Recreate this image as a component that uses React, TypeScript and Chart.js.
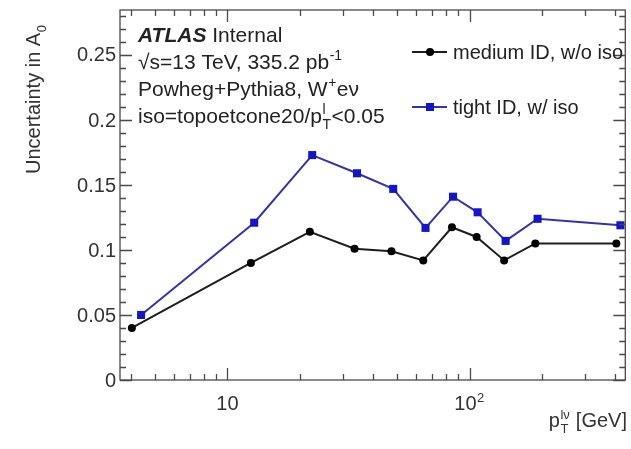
import React, { useEffect, useRef } from "react";
import { Chart, registerables } from "chart.js";

Chart.register(...registerables);

// ---- data ----
const mediumPt = [4.03, 12.5, 21.9, 33.5, 47.6, 64.4, 84.6, 107, 139, 187, 404];
const mediumUnc = [0.040, 0.090, 0.114, 0.101, 0.099, 0.092, 0.1175, 0.110, 0.092, 0.105, 0.105];
const tightPt = [4.4, 12.9, 22.4, 34.3, 48.4, 65.8, 85.5, 108, 141, 191, 420];
const tightUnc = [0.050, 0.121, 0.173, 0.159, 0.147, 0.117, 0.141, 0.129, 0.107, 0.124, 0.119];
const seriesLabels = ["medium ID, w/o iso", "tight ID, w/ iso"];
const yTickValues = [0, 0.05, 0.1, 0.15, 0.2, 0.25];
const yTickLabels = ["0", "0.05", "0.1", "0.15", "0.2", "0.25"];
const xMajorValues = [10, 100];
const xMajorBase = ["10", "10"];
const xMajorExp = ["", "2"];
const xRange = [3.6, 440];
const yRange = [0, 0.2846];

const FONT = '"Liberation Sans", Arial, Helvetica, sans-serif';
const BLACK_LINE = "#1e1e1e";
const BLUE_LINE = "#3434a8";
const BLUE_MARK = "#1414c8";

type Part = { t?: string; sup?: string; sub?: string; style?: string };

function partsWidth(ctx: CanvasRenderingContext2D, parts: Part[], size: number) {
  let w = 0;
  for (const p of parts) {
    if (p.t !== undefined) {
      ctx.font = `${p.style || ""} ${size}px ${FONT}`;
      w += ctx.measureText(p.t).width;
    } else {
      ctx.font = `${Math.round(size * 0.65)}px ${FONT}`;
      const a = p.sup ? ctx.measureText(p.sup).width : 0;
      const b = p.sub ? ctx.measureText(p.sub).width : 0;
      w += Math.max(a, b) + 1;
    }
  }
  return w;
}

function drawParts(ctx: CanvasRenderingContext2D, parts: Part[], x: number, y: number, size: number) {
  ctx.textAlign = "left";
  ctx.textBaseline = "alphabetic";
  let cx = x;
  for (const p of parts) {
    if (p.t !== undefined) {
      ctx.font = `${p.style || ""} ${size}px ${FONT}`;
      ctx.fillText(p.t, cx, y);
      cx += ctx.measureText(p.t).width;
    } else {
      const s = Math.round(size * 0.65);
      ctx.font = `${s}px ${FONT}`;
      let w = 0;
      if (p.sup) {
        ctx.fillText(p.sup, cx + 0.5, y - size * 0.42);
        w = Math.max(w, ctx.measureText(p.sup).width);
      }
      if (p.sub) {
        ctx.fillText(p.sub, cx + 0.5, y + size * 0.3);
        w = Math.max(w, ctx.measureText(p.sub).width);
      }
      cx += w + 1;
    }
  }
  return cx;
}

const rootStyle = {
  id: "rootStyle",
  afterDraw(chart: any) {
    const ctx: CanvasRenderingContext2D = chart.ctx;
    const { left, right, top, bottom } = chart.chartArea;
    const xs = chart.scales.x;
    const ys = chart.scales.y;
    ctx.save();

    // frame
    ctx.strokeStyle = "#4a4a4a";
    ctx.lineWidth = 1.3;
    ctx.strokeRect(left, top, right - left, bottom - top);

    // y ticks
    ctx.beginPath();
    for (let i = 0; i <= 28; i++) {
      const v = i * 0.01;
      const py = Math.round(ys.getPixelForValue(v)) + 0.5;
      const major = i % 5 === 0;
      const len = major ? 12 : 6;
      ctx.moveTo(left, py);
      ctx.lineTo(left + len, py);
      ctx.moveTo(right, py);
      ctx.lineTo(right - len, py);
    }
    // x ticks
    const xticks: number[] = [];
    for (let d = 1; d <= 100; d *= 10) for (let k = 1; k <= 9; k++) xticks.push(d * k);
    for (const v of xticks) {
      if (v < xRange[0] || v > xRange[1]) continue;
      const px = Math.round(xs.getPixelForValue(v)) + 0.5;
      const major = v === 10 || v === 100;
      const len = major ? 12 : 6;
      ctx.moveTo(px, bottom);
      ctx.lineTo(px, bottom - len);
      ctx.moveTo(px, top);
      ctx.lineTo(px, top + len);
    }
    ctx.stroke();

    ctx.fillStyle = "#333";
    // y tick labels
    ctx.font = `20px ${FONT}`;
    ctx.textAlign = "right";
    ctx.textBaseline = "middle";
    yTickValues.forEach((v, i) => {
      ctx.fillText(yTickLabels[i], left - 4, ys.getPixelForValue(v) + 1);
    });
    // x tick labels
    xMajorValues.forEach((v, i) => {
      const parts: Part[] = [{ t: xMajorBase[i] }];
      if (xMajorExp[i]) parts.push({ sup: xMajorExp[i] });
      const w = partsWidth(ctx, parts, 20);
      const px = xs.getPixelForValue(v);
      drawParts(ctx, parts, px - w / 2 + (xMajorExp[i] ? 0 : 0), 410, 20);
    });

    // x title
    const xt: Part[] = [{ t: "p" }, { sup: "lν", sub: "T" }, { t: " [GeV]" }];
    const xw = partsWidth(ctx, xt, 20);
    drawParts(ctx, xt, 627 - xw, 427, 20);

    // y title
    ctx.save();
    ctx.translate(40, 174);
    ctx.rotate(-Math.PI / 2);
    drawParts(ctx, [{ t: "Uncertainty in A" }, { sub: "0" }], 0, 0, 20);
    ctx.restore();

    // text block
    ctx.fillStyle = "#222";
    const tx = 138;
    const fs = 21;
    drawParts(ctx, [{ t: "ATLAS", style: "italic bold" }, { t: " Internal" }], tx, 42, fs);
    drawParts(ctx, [{ t: "√s=13 TeV, 335.2 pb" }, { sup: "-1" }], tx, 69, fs);
    drawParts(ctx, [{ t: "Powheg+Pythia8, W" }, { sup: "+" }, { t: "eν" }], tx, 96, fs);
    drawParts(ctx, [{ t: "iso=topoetcone20/p" }, { sup: "l", sub: "T" }, { t: "<0.05" }], tx, 123, fs);

    // legend
    const legend = [
      { y: 52, line: BLACK_LINE, mark: "#000", style: "circle", label: seriesLabels[0] },
      { y: 107, line: BLUE_LINE, mark: BLUE_MARK, style: "rect", label: seriesLabels[1] },
    ];
    for (const e of legend) {
      ctx.strokeStyle = e.line;
      ctx.lineWidth = 2;
      ctx.beginPath();
      ctx.moveTo(412, e.y);
      ctx.lineTo(447, e.y);
      ctx.stroke();
      ctx.fillStyle = e.mark;
      if (e.style === "circle") {
        ctx.beginPath();
        ctx.arc(430, e.y, 4, 0, Math.PI * 2);
        ctx.fill();
      } else {
        ctx.fillRect(426, e.y - 4, 8, 8);
      }
      ctx.fillStyle = "#222";
      drawParts(ctx, [{ t: e.label }], 453, e.y + 7, 20);
    }
    ctx.restore();
  },
};

export default function App() {
  const ref = useRef<HTMLCanvasElement | null>(null);
  useEffect(() => {
    if (!ref.current) return;
    const chart = new Chart(ref.current, {
      type: "line",
      data: {
        datasets: [
          {
            label: seriesLabels[0],
            data: mediumPt.map((x, i) => ({ x, y: mediumUnc[i] })),
            borderColor: BLACK_LINE,
            backgroundColor: "#000",
            borderWidth: 2,
            pointStyle: "circle",
            pointRadius: 4,
            pointBorderWidth: 0,
            clip: false,
          },
          {
            label: seriesLabels[1],
            data: tightPt.map((x, i) => ({ x, y: tightUnc[i] })),
            borderColor: BLUE_LINE,
            backgroundColor: BLUE_MARK,
            borderWidth: 2,
            pointStyle: "rect",
            pointRadius: 5.7,
            pointBorderWidth: 0,
            clip: false,
          },
        ],
      },
      options: {
        animation: false,
        responsive: false,
        devicePixelRatio: 1,
        layout: { padding: { left: 120, top: 10, right: 1, bottom: 69 } },
        plugins: { legend: { display: false }, tooltip: { enabled: false } },
        scales: {
          x: { type: "logarithmic", min: xRange[0], max: xRange[1], display: false },
          y: { type: "linear", min: yRange[0], max: yRange[1], display: false },
        },
      },
      plugins: [rootStyle],
    } as any);
    return () => chart.destroy();
  }, []);
  return (
    <div style={{ position: "fixed", left: 0, top: 0, width: 631, height: 449, background: "#fff" }}>
      <canvas ref={ref} width={631} height={449} style={{ display: "block" }} />
    </div>
  );
}
